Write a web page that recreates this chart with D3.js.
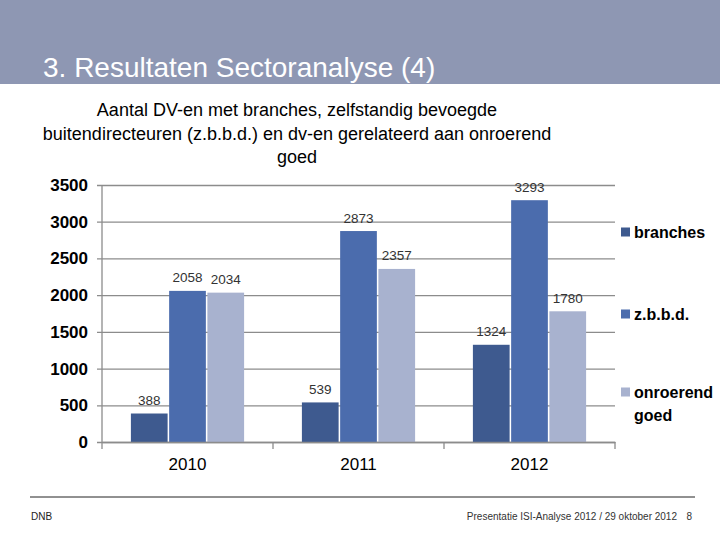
<!DOCTYPE html>
<html>
<head>
<meta charset="utf-8">
<script src="https://cdn.jsdelivr.net/npm/d3@7"></script>
<style>
  html, body { margin: 0; padding: 0; background: #fff; }
  svg { display: block; font-family: "Liberation Sans", Arial, sans-serif; }
</style>
</head>
<body>
<svg id="chart" width="720" height="540"></svg>
<script>
const years = ["2010", "2011", "2012"];
const seriesNames = ["branches", "z.b.b.d.", "onroerend goed"];
const branches = [388, 539, 1324];
const zbbd = [2058, 2873, 3293];
const onroerend = [2034, 2357, 1780];
const yTicks = [0, 500, 1000, 1500, 2000, 2500, 3000, 3500];
const colors = ["#3e5a8f", "#4b6cad", "#a8b2cf"];

const values = [branches, zbbd, onroerend];
const rows = years.map((y, i) => ({ year: y, vals: seriesNames.map((s, j) => ({ s, v: values[j][i], j })) }));

const svg = d3.select("#chart");

// Header band
svg.append("rect").attr("x", 0).attr("y", 0).attr("width", 720).attr("height", 84).attr("fill", "#8e97b3");
svg.append("text").attr("x", 43).attr("y", 77).attr("fill", "#fff").attr("font-size", 28)
  .text("3. Resultaten Sectoranalyse (4)");

// Chart title
const titleLines = ["Aantal DV-en met branches, zelfstandig bevoegde",
  "buitendirecteuren (z.b.b.d.) en dv-en gerelateerd aan onroerend", "goed"];
svg.append("g").selectAll("text").data(titleLines).join("text")
  .attr("x", 297).attr("y", (d, i) => 116 + i * 23.5)
  .attr("text-anchor", "middle").attr("font-size", 18).attr("fill", "#000")
  .text(d => d);

// Scales
const x0 = d3.scaleBand().domain(years).range([102, 615]).padding(0);
const bw = x0.bandwidth();
const x1 = d3.scaleBand().domain(seriesNames).range([bw * 0.169, bw * 0.831]).paddingInner(0.04);
const y = d3.scaleLinear().domain([0, 3500]).range([442, 185]);

const grid = "#8c8c8c";

// Gridlines + y ticks
const yAxis = d3.axisLeft(y).tickValues(yTicks).tickSize(-(615 - 97)).tickPadding(9).tickFormat(d3.format("d"));
const gy = svg.append("g").attr("transform", "translate(97,0)").call(yAxis);
gy.select(".domain").remove();
gy.selectAll(".tick line").attr("stroke", grid).attr("stroke-width", 1.3);
gy.selectAll(".tick text").attr("font-size", 17).attr("font-weight", "bold").attr("fill", "#000")
  .attr("font-family", "'Liberation Sans', Arial, sans-serif");

// vertical axis line
svg.append("line").attr("x1", 102).attr("x2", 102).attr("y1", y(3500)).attr("y2", y(0))
  .attr("stroke", grid).attr("stroke-width", 1.3);

// Bars
const groups = svg.append("g").selectAll("g").data(rows).join("g")
  .attr("transform", d => `translate(${x0(d.year)},0)`);
groups.selectAll("rect").data(d => d.vals).join("rect")
  .attr("x", d => x1(d.s)).attr("width", x1.bandwidth())
  .attr("y", d => y(d.v)).attr("height", d => y(0) - y(d.v))
  .attr("fill", d => colors[d.j]);
groups.selectAll("text").data(d => d.vals).join("text")
  .attr("x", d => x1(d.s) + x1.bandwidth() / 2).attr("y", d => y(d.v) - 8.5)
  .attr("text-anchor", "middle").attr("font-size", 13.5).attr("fill", "#333")
  .text(d => d.v);

// x axis
const xAxis = d3.axisBottom(x0).tickSize(0).tickPadding(16);
const gx = svg.append("g").attr("transform", `translate(0,${y(0)})`).call(xAxis);
gx.select(".domain").attr("stroke", grid).attr("stroke-width", 1.3);
gx.selectAll(".tick text").attr("font-size", 17).attr("fill", "#000")
  .attr("font-family", "'Liberation Sans', Arial, sans-serif");
// category separators
const seps = [102].concat(years.map(yr => x0(yr) + bw));
svg.append("g").selectAll("line").data(seps).join("line")
  .attr("x1", d => d).attr("x2", d => d).attr("y1", y(0)).attr("y2", y(0) + 7)
  .attr("stroke", grid).attr("stroke-width", 1.3);

// Legend
const legendY = [[238], [320], [398, 420.5]];
const legendLabels = [["branches"], ["z.b.b.d."], ["onroerend", "goed"]];
const lg = svg.append("g").selectAll("g").data(seriesNames).join("g");
lg.append("rect").attr("x", 621).attr("y", (d, i) => legendY[i][0] - 10.5).attr("width", 9).attr("height", 9)
  .attr("fill", (d, i) => colors[i]);
lg.each(function (d, i) {
  d3.select(this).selectAll("text").data(legendLabels[i]).join("text")
    .attr("x", 634).attr("y", (t, k) => legendY[i][k])
    .attr("font-size", 16).attr("font-weight", "bold").attr("fill", "#000").text(t => t);
});

// Footer
svg.append("line").attr("x1", 30).attr("x2", 695).attr("y1", 497).attr("y2", 497)
  .attr("stroke", "#222").attr("stroke-width", 1);
svg.append("text").attr("x", 31).attr("y", 520).attr("font-size", 10).attr("fill", "#222").text("DNB");
svg.append("text").attr("x", 677).attr("y", 520).attr("font-size", 10).attr("fill", "#333")
  .attr("text-anchor", "end").text("Presentatie ISI-Analyse 2012 / 29 oktober 2012");
svg.append("text").attr("x", 692).attr("y", 520).attr("font-size", 10).attr("fill", "#333")
  .attr("text-anchor", "end").text("8");
</script>
</body>
</html>
